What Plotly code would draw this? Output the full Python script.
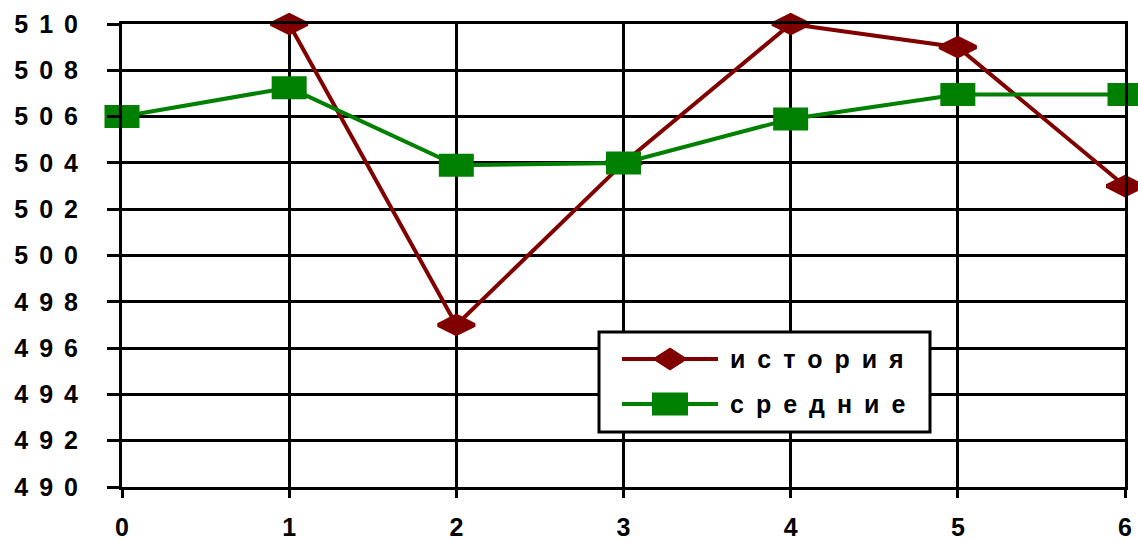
import plotly.graph_objects as go

# Data
x_hist = [1, 2, 3, 4, 5, 6]
y_hist = [510, 497, 504, 510, 509, 503]
x_avg = [0, 1, 2, 3, 4, 5, 6]
y_avg = [506, 507.25, 503.9, 504, 505.9, 506.95, 506.95]
y_ticks = [490, 492, 494, 496, 498, 500, 502, 504, 506, 508, 510]
x_ticks = [0, 1, 2, 3, 4, 5, 6]
series_names = ["история", "средние"]

RED = "#800000"
GREEN = "#008000"
FONT = dict(family="Liberation Sans, Arial", size=25, color="black", weight="bold")


def spaced(s, px=11):
    return f'<span style="letter-spacing:{px}px">{s}</span>'


fig = go.Figure()

fig.add_trace(go.Scatter(
    x=x_hist, y=y_hist, mode="lines+markers", name=series_names[0],
    line=dict(color=RED, width=4),
    marker=dict(symbol="diamond-wide", size=26, color=RED,
                line=dict(color=RED, width=4)),
    cliponaxis=False, showlegend=False,
))

# rectangular markers: a thick horizontal stroke (line-ew) gives a wide box
fig.add_trace(go.Scatter(
    x=x_avg, y=y_avg, mode="lines", name=series_names[1],
    line=dict(color=GREEN, width=4),
    cliponaxis=False, showlegend=False,
))
fig.add_trace(go.Scatter(
    x=x_avg, y=y_avg, mode="markers", name=series_names[1],
    marker=dict(symbol="line-ew", size=25, color=GREEN,
                line=dict(color=GREEN, width=23)),
    cliponaxis=False, showlegend=False,
))

axis_common = dict(
    showgrid=True, gridcolor="black", gridwidth=3,
    showline=True, linecolor="black", linewidth=3, mirror=True,
    ticks="outside", tickcolor="black", tickwidth=3,
    zeroline=False, tickfont=FONT, automargin=False,
)

fig.update_xaxes(
    range=[0, 6], tickmode="array", tickvals=x_ticks,
    ticktext=[str(v) for v in x_ticks], ticklen=8, ticklabelstandoff=8,
    **axis_common,
)
fig.update_yaxes(
    range=[490, 510], tickmode="array", tickvals=y_ticks,
    ticktext=[spaced(v) for v in y_ticks], ticklen=12, ticklabelstandoff=13,
    **axis_common,
)

# Legend box drawn by hand
W, H = 1138, 540
L, R, T, B = 122, 13, 24, 53
pw, ph = W - L - R, H - T - B


def px_x(p):
    return (p - L) / pw


def px_y(p):
    return 1 - (p - T) / ph


shapes = [
    dict(type="rect", xref="paper", yref="paper",
         x0=px_x(599), x1=px_x(930), y0=px_y(432), y1=px_y(332),
         fillcolor="white", line=dict(color="black", width=3), layer="above"),
]
legend_rows = [(359, RED, "diamond"), (404, GREEN, "rect")]
for (yy, col, kind), name in zip(legend_rows, series_names):
    shapes.append(dict(type="line", xref="paper", yref="paper",
                       x0=px_x(622), x1=px_x(718), y0=px_y(yy), y1=px_y(yy),
                       line=dict(color=col, width=4), layer="above"))
    if kind == "diamond":
        shapes.append(dict(type="path", xref="paper", yref="paper",
                           xsizemode="pixel", ysizemode="pixel",
                           xanchor=px_x(670), yanchor=px_y(yy),
                           path="M -17 0 L 0 11 L 17 0 L 0 -11 Z",
                           fillcolor=col, line=dict(color=col, width=1),
                           layer="above"))
    else:
        shapes.append(dict(type="rect", xref="paper", yref="paper",
                           xsizemode="pixel", ysizemode="pixel",
                           xanchor=px_x(670), yanchor=px_y(yy),
                           x0=-18, x1=18, y0=-11.5, y1=11.5,
                           fillcolor=col, line=dict(color=col, width=0),
                           layer="above"))
    fig.add_annotation(xref="paper", yref="paper", x=px_x(728), y=px_y(yy),
                       xanchor="left", yanchor="middle", showarrow=False,
                       text=spaced(name, 12), font=FONT)

fig.update_layout(
    width=W, height=H,
    margin=dict(l=L, r=R, t=T, b=B, pad=0),
    plot_bgcolor="white", paper_bgcolor="white",
    shapes=shapes,
)

fig.write_html("out.html")
